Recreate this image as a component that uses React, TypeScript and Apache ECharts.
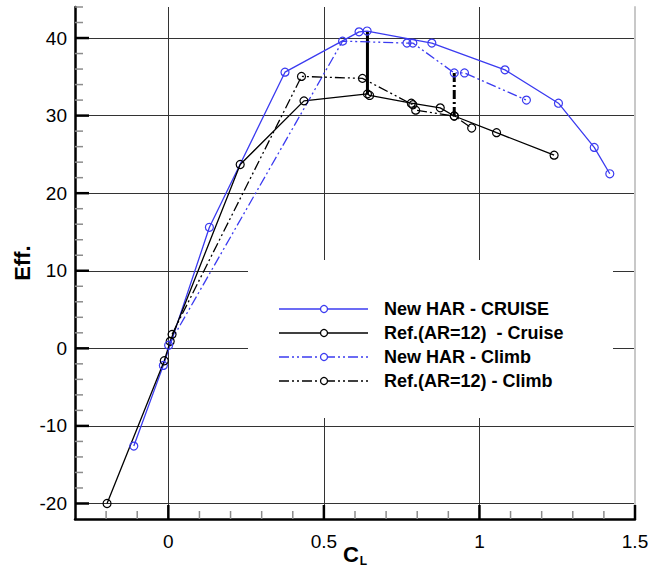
import React, { useEffect, useRef } from "react";
import * as echarts from "echarts";

// CL, Eff.
const newHarCruise: [number, number][] = [
  [-0.111, -12.6], [-0.016, -2.2], [0.132, 15.6], [0.375, 35.6], [0.613, 40.8],
  [0.639, 40.9], [0.847, 39.35], [1.082, 35.9], [1.254, 31.6], [1.369, 25.9], [1.419, 22.5],
];
const refCruise: [number, number][] = [
  [-0.197, -20.0], [-0.013, -1.6], [0.006, 0.9], [0.231, 23.7], [0.436, 31.9],
  [0.64, 32.8], [0.647, 32.6], [0.781, 31.6], [0.874, 31.0], [0.919, 29.95],
  [1.055, 27.8], [1.24, 24.9],
];
const newHarClimb: [number, number][] = [
  [0.001, 0.4], [0.56, 39.6], [0.767, 39.35], [0.786, 39.35], [0.919, 35.5],
  [0.952, 35.5], [1.151, 32.0],
];
const refClimb: [number, number][] = [
  [0.012, 1.8], [0.428, 35.05], [0.624, 34.8], [0.786, 31.4], [0.795, 30.7],
  [0.919, 29.95], [0.975, 28.4],
];
// vertical links between the compared points
const cruiseLink: [number, number][] = [[0.64, 32.8], [0.64, 40.9]];
const climbLink: [number, number][] = [[0.919, 29.95], [0.919, 35.5]];

// tick values
const xTicks = [0, 0.5, 1, 1.5];
const xMinorTicks = [-0.2, -0.1, 0.1, 0.2, 0.3, 0.4, 0.6, 0.7, 0.8, 0.9, 1.1, 1.2, 1.3, 1.4];
const yTicks = [-20, -10, 0, 10, 20, 30, 40];
const yMinorTicks = [
  -18, -16, -14, -12, -8, -6, -4, -2, 2, 4, 6, 8, 12, 14, 16, 18,
  22, 24, 26, 28, 32, 34, 36, 38, 42, 44,
];
const legendNames = [
  "New HAR - CRUISE",
  "Ref.(AR=12)  - Cruise",
  "New HAR - Climb",
  "Ref.(AR=12) - Climb",
];

const BLUE = "#3b3bf0";
const FONT = "Liberation Sans";
const DASH = [10, 3, 2, 3, 2, 3];
const X_MIN = -0.3;
const X_MAX = 1.5;
const Y_MIN = -22;
const Y_MAX = 44;

const isTick = (list: number[], v: number) => list.some((t) => Math.abs(t - v) < 1e-6);

function lineSeries(name: string, data: [number, number][], color: string, dashed: boolean) {
  const lineStyle: any = { color, width: 1.3 };
  if (dashed) lineStyle.type = DASH;
  return {
    type: "line",
    name,
    data,
    symbol: "circle",
    symbolSize: 8,
    itemStyle: { color: "rgba(0,0,0,0)", borderColor: color, borderWidth: 1.2 },
    lineStyle,
    emphasis: { disabled: true },
    silent: true,
    z: 3,
  };
}

function linkSeries(data: [number, number][], dashed: boolean) {
  const lineStyle: any = { color: "#000", width: 3 };
  if (dashed) lineStyle.type = [9, 3, 2, 3];
  return {
    type: "line",
    data,
    symbol: "none",
    lineStyle,
    emphasis: { disabled: true },
    silent: true,
    z: 2,
  };
}

// tick marks drawn through the cartesian scales: [axis (0 = x, 1 = y), value, major flag]
const tickData: number[][] = [
  ...xTicks.map((v) => [0, v, 1]),
  ...xMinorTicks.map((v) => [0, v, 0]),
  ...yTicks.map((v) => [1, v, 1]),
  ...yMinorTicks.map((v) => [1, v, 0]),
];

function tickSeries() {
  return {
    type: "custom",
    data: tickData,
    encode: { x: -1, y: -1 },
    clip: false,
    silent: true,
    z: 4,
    renderItem: (_params: any, api: any) => {
      const which = api.value(0);
      const v = api.value(1);
      const major = api.value(2) === 1;
      const len = major ? 14 : 8;
      const style = { stroke: major ? "#000" : "#8c8c8c", lineWidth: major ? 2.5 : 1.5 };
      if (which === 0) {
        const p = api.coord([v, Y_MIN]);
        return { type: "line", shape: { x1: p[0], y1: p[1], x2: p[0], y2: p[1] - len }, style };
      }
      const p = api.coord([X_MIN, v]);
      return { type: "line", shape: { x1: p[0], y1: p[1], x2: p[0] + len, y2: p[1] }, style };
    },
  };
}

export default function App() {
  const ref = useRef<HTMLDivElement>(null);
  useEffect(() => {
    const chart = echarts.init(ref.current!, null, { renderer: "svg" });
    const legendColors = [BLUE, "#000", BLUE, "#000"];
    const legendDashed = [false, false, true, true];
    const legendEls: any[] = [];
    legendNames.forEach((n, i) => {
      const y = 309 + i * 24;
      const lineStyle: any = { stroke: legendColors[i], lineWidth: 1.3 };
      if (legendDashed[i]) lineStyle.lineDash = DASH;
      legendEls.push({
        type: "line",
        shape: { x1: 279, y1: y, x2: 368, y2: y },
        style: lineStyle,
        z: 5,
        silent: true,
      });
      legendEls.push({
        type: "circle",
        shape: { cx: 324, cy: y, r: 3.5 },
        style: { fill: "#fff", stroke: legendColors[i], lineWidth: 1.3 },
        z: 6,
        silent: true,
      });
      legendEls.push({
        type: "text",
        x: 384,
        y,
        style: {
          text: n,
          fill: "#000",
          font: `bold 18px ${FONT}`,
          verticalAlign: "middle",
        },
        z: 6,
        silent: true,
      });
    });

    const option: any = {
      animation: false,
      textStyle: { fontFamily: FONT },
      grid: { left: 75, right: 16, top: 7, bottom: 53, containLabel: false, outerBoundsMode: "none" },
      xAxis: {
        type: "value",
        min: X_MIN,
        max: X_MAX,
        splitNumber: 4,
        position: "bottom",
        axisLine: { show: true, onZero: false, lineStyle: { color: "#000", width: 2.5 } },
        axisTick: { show: false },
        minorTick: { show: false },
        axisLabel: {
          fontSize: 19,
          color: "#000",
          margin: 13,
          showMinLabel: false,
          formatter: (v: number) => (isTick(xTicks, v) ? String(Math.round(v * 10) / 10) : ""),
        },
        splitLine: {
          show: true,
          showMinLine: false,
          showMaxLine: false,
          lineStyle: { color: "#333", width: 1 },
        },
        name: "{c|C}{l|L}",
        nameLocation: "middle",
        nameGap: 24,
        nameMoveOverlap: false,
        nameTextStyle: {
          rich: {
            c: { fontSize: 22, fontWeight: "bold", color: "#000", verticalAlign: "top" },
            l: {
              fontSize: 12,
              fontWeight: "bold",
              color: "#000",
              verticalAlign: "top",
              padding: [12, 0, 0, 1],
            },
          },
        },
      },
      yAxis: [
        {
          type: "value",
          min: Y_MIN,
          max: Y_MAX,
          splitNumber: 6,
          position: "left",
          axisLine: { show: true, onZero: false, lineStyle: { color: "#000", width: 2.5 } },
          axisTick: { show: false },
          minorTick: { show: false },
          axisLabel: {
            fontSize: 19,
            color: "#000",
            margin: 8,
            formatter: (v: number) => (isTick(yTicks, v) ? String(v) : ""),
          },
          splitLine: {
            show: true,
            showMinLine: false,
            showMaxLine: false,
            lineStyle: { color: "#333", width: 1 },
          },
          name: "Eff.",
          nameLocation: "middle",
          nameGap: 42,
          nameMoveOverlap: false,
          nameTextStyle: { fontSize: 22, fontWeight: "bold", color: "#000" },
        },
        {
          type: "value",
          min: Y_MIN,
          max: Y_MAX,
          position: "right",
          axisLine: { show: true, onZero: false, lineStyle: { color: "#c8c8c8", width: 2 } },
          axisTick: { show: false },
          axisLabel: { show: false },
          splitLine: { show: false },
        },
      ],
      graphic: [
        {
          type: "rect",
          shape: { x: 248, y: 260, width: 365, height: 158 },
          style: { fill: "#fff" },
          z: 1,
          silent: true,
        },
        ...legendEls,
      ],
      series: [
        lineSeries(legendNames[0], newHarCruise, BLUE, false),
        lineSeries(legendNames[1], refCruise, "#000", false),
        lineSeries(legendNames[2], newHarClimb, BLUE, true),
        lineSeries(legendNames[3], refClimb, "#000", true),
        linkSeries(cruiseLink, false),
        linkSeries(climbLink, true),
        tickSeries(),
      ],
    };
    chart.setOption(option);
    return () => chart.dispose();
  }, []);
  return <div ref={ref} style={{ position: "absolute", left: 0, top: 0, width: 651, height: 572 }} />;
}
